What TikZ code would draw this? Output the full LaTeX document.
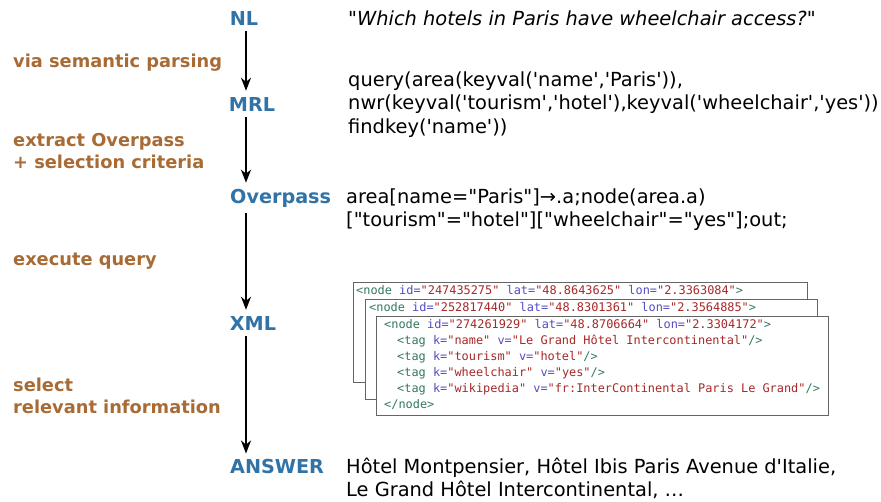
\documentclass[tikz,border=0pt]{standalone}
\usepackage{fontspec}
\setmainfont{DejaVu Sans}[Ligatures=TeXOff]
\setmonofont{DejaVu Sans Mono}
\usetikzlibrary{arrows.meta}
\definecolor{stage}{RGB}{49,115,166}
\definecolor{step}{RGB}{168,107,53}
\definecolor{xmltag}{RGB}{52,120,96}
\definecolor{xmlattr}{RGB}{84,76,196}
\definecolor{xmlval}{RGB}{168,40,40}
\definecolor{boxline}{RGB}{100,100,100}
\newcommand{\xtag}[1]{\textcolor{xmltag}{#1}}
\newcommand{\xattr}[1]{\textcolor{xmlattr}{#1}}
\newcommand{\xval}[1]{\textcolor{xmlval}{#1}}
\tikzset{
  stagelabel/.style={text=stage,font=\fontsize{19.2}{23}\selectfont\bfseries,inner sep=4pt},
  steplabel/.style={text=step,font=\fontsize{17.8}{22}\selectfont\bfseries,anchor=west,align=left,inner sep=0pt},
  content/.style={font=\fontsize{19.4}{23.5}\selectfont,anchor=west,align=left,inner sep=0pt},
  xmlbox/.style={draw=boxline,line width=1.2pt,fill=white,anchor=north west,inner sep=0pt},
  xmlcode/.style={font=\fontsize{11.9}{16}\selectfont\ttfamily,anchor=north west,align=left,inner sep=0pt},
  flow/.style={->,>={Stealth[length=13pt,width=10pt,inset=4pt]},line width=2pt,shorten <=2pt,shorten >=2pt}
}

\begin{document}
\begin{tikzpicture}[x=1pt,y=-1pt]
  \useasboundingbox (0,0) rectangle (881,501);

  % stages
  \node[stagelabel] (NL) at (244,18) {NL};
  \node[stagelabel] (MRL) at (252,104) {MRL};
  \node[stagelabel,anchor=west] (Overpass) at (226,198) {Overpass};
  \node[stagelabel] (XML) at (253,323) {XML};
  \node[stagelabel,anchor=west] (ANSWER) at (226,467) {ANSWER};
  \coordinate (spine) at (246,0);

  % steps
  \node[steplabel] (parse) at (13,63) {via semantic parsing};
  \node[steplabel] (extract) at (13,151) {extract Overpass\\+ selection criteria};
  \node[steplabel] (execute) at (13,261) {execute query};
  \node[steplabel] (select) at (13,396) {select\\relevant information};

  \draw[flow] (NL.south -| spine) -- (MRL.north -| spine);
  \draw[flow] (MRL.south -| spine) -- (Overpass.north -| spine);
  \draw[flow] (Overpass.south -| spine) -- (XML.north -| spine);
  \draw[flow] (XML.south -| spine) -- (ANSWER.north -| spine);

  % contents
  \node[content,font=\fontsize{19.4}{23}\selectfont\itshape] (question) at (348,18)
    {"Which hotels in Paris have wheelchair access?"};
  \node[content] (query) at (348,104.5)
    {query(area(keyval('name','Paris')),\\
     nwr(keyval('tourism','hotel'),keyval('wheelchair','yes'))\\
     findkey('name'))};
  \node[content] (overpassq) at (346,209.5)
    {area{[}name="Paris"{]}→.a;node(area.a)\\
     {[}"tourism"="hotel"{]}{[}"wheelchair"="yes"{]};out;};
  \node[content] (answer) at (346,478.5)
    {Hôtel Montpensier, Hôtel Ibis Paris Avenue d'Italie,\\
     Le Grand Hôtel Intercontinental, …};

  % xml records
  \node[xmlbox,minimum width=454,minimum height=100] (box1) at (353,282) {};
  \node[xmlcode] (rec1) at ([shift={(3,3)}]box1.north west)
    {\xtag{<node} \xattr{id=}\xval{"247435275"} \xattr{lat=}\xval{"48.8643625"} \xattr{lon=}\xval{"2.3363084"}\xtag{>}};
  \node[xmlbox,minimum width=452,minimum height=100] (box2) at (365,299) {};
  \node[xmlcode] (rec2) at ([shift={(4,3)}]box2.north west)
    {\xtag{<node} \xattr{id=}\xval{"252817440"} \xattr{lat=}\xval{"48.8301361"} \xattr{lon=}\xval{"2.3564885"}\xtag{>}};
  \node[xmlbox,minimum width=452,minimum height=99] (box3) at (376,316) {};
  \node[xmlcode] (rec3) at ([shift={(8,3)}]box3.north west)
    {\xtag{<node} \xattr{id=}\xval{"274261929"} \xattr{lat=}\xval{"48.8706664"} \xattr{lon=}\xval{"2.3304172"}\xtag{>}\\
     \hspace*{2ex}\xtag{<tag} \xattr{k=}\xval{"name"} \xattr{v=}\xval{"Le Grand Hôtel Intercontinental"}\xtag{/>}\\
     \hspace*{2ex}\xtag{<tag} \xattr{k=}\xval{"tourism"} \xattr{v=}\xval{"hotel"}\xtag{/>}\\
     \hspace*{2ex}\xtag{<tag} \xattr{k=}\xval{"wheelchair"} \xattr{v=}\xval{"yes"}\xtag{/>}\\
     \hspace*{2ex}\xtag{<tag} \xattr{k=}\xval{"wikipedia"} \xattr{v=}\xval{"fr:InterContinental Paris Le Grand"}\xtag{/>}\\
     \xtag{</node>}};
\end{tikzpicture}
\end{document}
